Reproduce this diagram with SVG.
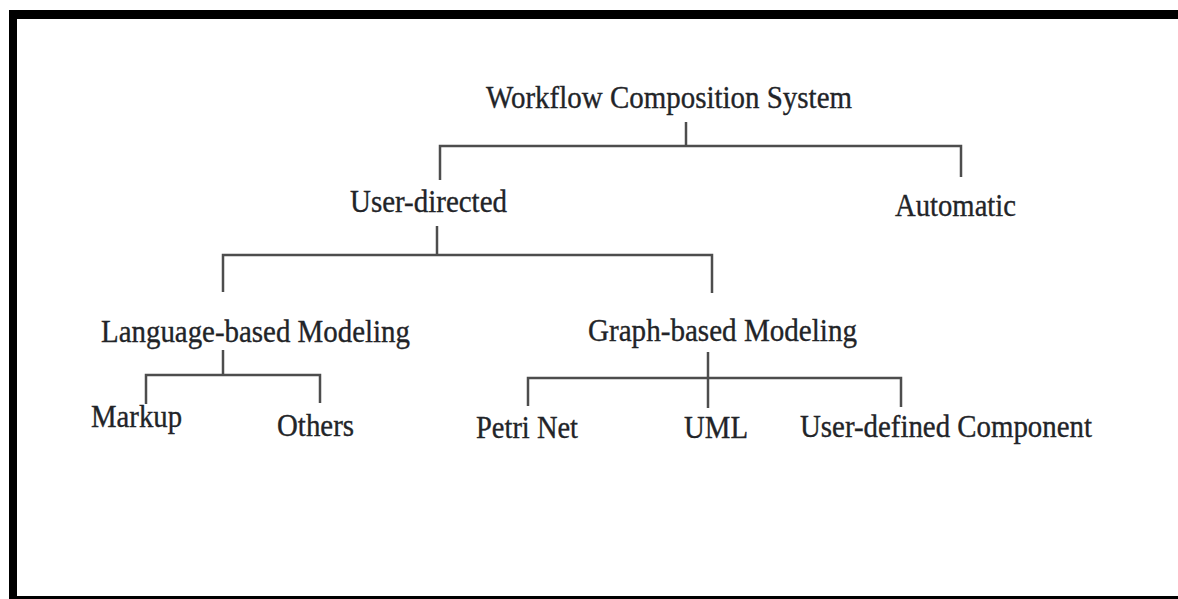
<svg xmlns="http://www.w3.org/2000/svg" width="1178" height="599" viewBox="0 0 1178 599">
  <style>
    .label { font-family: "Liberation Serif", "Times New Roman", serif; font-size: 32px; fill: #222428; stroke: #222428; stroke-width: 0.35; }
    .link { fill: none; stroke: #4d4d4d; stroke-width: 2.5; stroke-linecap: butt; stroke-linejoin: miter; }
  </style>
  <rect width="1178" height="599" fill="#ffffff"/>

  <!-- frame -->
  <g id="frame" fill="#000000">
    <rect x="9" y="10" width="1169" height="9"/>
    <rect x="9" y="10" width="8" height="589"/>
    <rect x="9" y="596" width="1169" height="3"/>
  </g>

  <!-- connectors -->
  <g id="connectors" class="link">
    <path d="M686,122 V146"/>
    <path d="M440,180 V146 H961 V177"/>
    <path d="M437,226 V255"/>
    <path d="M223,292 V255 H712 V293"/>
    <path d="M223,350 V375"/>
    <path d="M146,404 V375 H320 V403"/>
    <path d="M708,352 V408"/>
    <path d="M528,406 V378 H901 V407"/>
  </g>

  <g id="node-root">
    <text class="label" x="486" y="108" textLength="366" lengthAdjust="spacingAndGlyphs">Workflow Composition System</text>
  </g>
  <g id="node-user-directed">
    <text class="label" x="350" y="212" textLength="157" lengthAdjust="spacingAndGlyphs">User-directed</text>
  </g>
  <g id="node-automatic">
    <text class="label" x="895" y="216" textLength="121" lengthAdjust="spacingAndGlyphs">Automatic</text>
  </g>
  <g id="node-language">
    <text class="label" x="101" y="342" textLength="309" lengthAdjust="spacingAndGlyphs">Language-based Modeling</text>
  </g>
  <g id="node-graph">
    <text class="label" x="588" y="341" textLength="269" lengthAdjust="spacingAndGlyphs">Graph-based Modeling</text>
  </g>
  <g id="node-markup">
    <text class="label" x="91" y="427" textLength="91" lengthAdjust="spacingAndGlyphs">Markup</text>
  </g>
  <g id="node-others">
    <text class="label" x="277" y="436" textLength="77" lengthAdjust="spacingAndGlyphs">Others</text>
  </g>
  <g id="node-petri">
    <text class="label" x="476" y="438" textLength="102" lengthAdjust="spacingAndGlyphs">Petri Net</text>
  </g>
  <g id="node-uml">
    <text class="label" x="684" y="438" textLength="64" lengthAdjust="spacingAndGlyphs">UML</text>
  </g>
  <g id="node-user-defined">
    <text class="label" x="800" y="437" textLength="292" lengthAdjust="spacingAndGlyphs">User-defined Component</text>
  </g>
</svg>
